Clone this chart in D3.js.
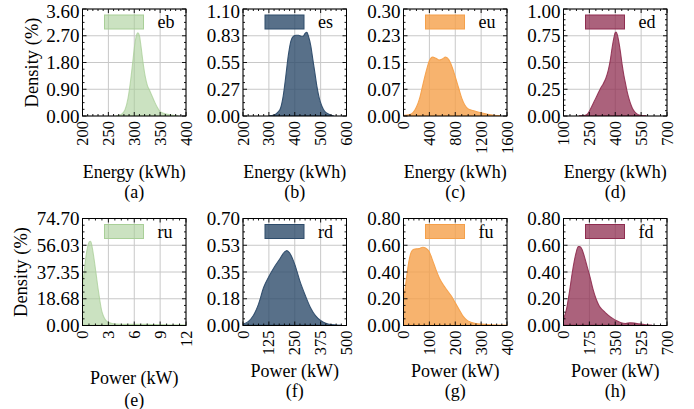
<!DOCTYPE html>
<html><head><meta charset="utf-8">
<script src="https://cdn.jsdelivr.net/npm/d3@7"></script>
<style>body{margin:0;background:#fff}</style>
</head><body>
<svg id="chart" width="694" height="409"></svg>
<script>
// ---------------- data ----------------
const seriesNames = ["eb","es","eu","ed","ru","rd","fu","fd"];
const panelLetters = ["(a)","(b)","(c)","(d)","(e)","(f)","(g)","(h)"];
const xAxisLabels = ["Energy (kWh)","Energy (kWh)","Energy (kWh)","Energy (kWh)","Power (kW)","Power (kW)","Power (kW)","Power (kW)"];
const yAxisLabel = "Density (%)";

const ebX = [265,275,282,288,293,297,301,304,307,310,313,317,321,325,330,335,340,345,350,355,362,370,378,385];
const ebY = [0,0.05,0.2,0.6,1.2,1.8,2.4,2.7,2.8,2.7,2.35,1.8,1.35,1.05,0.85,0.65,0.45,0.28,0.15,0.1,0.07,0.04,0.01,0];
const esX = [300,320,335,345,355,365,375,385,395,405,415,425,432,440,447,453,462,470,478,486,495,505,515,530,550];
const esY = [0,0.01,0.04,0.08,0.2,0.4,0.62,0.77,0.82,0.83,0.83,0.82,0.82,0.85,0.86,0.82,0.72,0.58,0.44,0.3,0.18,0.1,0.05,0.02,0];
const euX = [0,100,150,200,250,300,350,400,450,500,550,600,650,700,750,800,850,900,950,1000,1100,1200,1300,1400,1500];
const euY = [0.002,0.004,0.01,0.025,0.05,0.088,0.125,0.155,0.165,0.162,0.157,0.16,0.165,0.158,0.138,0.11,0.08,0.05,0.03,0.02,0.014,0.009,0.005,0.002,0];
const edX = [190,220,240,255,270,285,300,315,330,345,360,372,382,392,400,405,412,420,430,440,450,460,470,480,490,500,515,530,550,580];
const edY = [0,0.005,0.02,0.06,0.11,0.16,0.21,0.26,0.30,0.35,0.43,0.53,0.64,0.73,0.78,0.785,0.76,0.7,0.6,0.48,0.38,0.3,0.22,0.16,0.11,0.07,0.035,0.015,0.005,0];
const ruX = [0,0.2,0.4,0.6,0.8,0.9,1.0,1.2,1.4,1.6,1.8,2.0,2.2,2.4,2.6,2.8,3.0,3.5,4,5,6,7,8,9,10,11,12];
const ruY = [28,38,48,55,58.5,58.8,58,52,44,35,26,18,11,7,4.5,3,2.2,1.3,1.0,0.8,0.8,0.9,0.7,0.5,0.4,0.3,0.2];
const rdX = [0,25,50,75,100,125,150,175,200,212,225,250,275,300,325,350,375,400,425,450,475];
const rdY = [0.01,0.025,0.065,0.14,0.25,0.32,0.38,0.43,0.48,0.49,0.475,0.4,0.29,0.2,0.12,0.065,0.033,0.015,0.006,0.002,0];
const fuX = [0,10,20,30,40,60,75,85,100,110,125,140,155,170,185,200,215,230,245,260,280,300,330,360,400];
const fuY = [0.19,0.33,0.47,0.55,0.57,0.575,0.585,0.58,0.55,0.5,0.42,0.35,0.3,0.26,0.22,0.17,0.12,0.07,0.04,0.025,0.015,0.01,0.005,0.002,0];
const fdX = [0,20,40,60,80,100,110,125,140,160,180,200,220,240,260,280,300,330,360,390,420,450,480,510,550,600];
const fdY = [0.05,0.12,0.25,0.4,0.52,0.59,0.59,0.57,0.52,0.44,0.36,0.27,0.2,0.15,0.12,0.1,0.08,0.055,0.035,0.02,0.015,0.02,0.018,0.012,0.006,0];

const seriesX = [ebX,esX,euX,edX,ruX,rdX,fuX,fdX];
const seriesY = [ebY,esY,euY,edY,ruY,rdY,fuY,fdY];

const xTicks = [
  [200,250,300,350,400],[200,300,400,500,600],[0,400,800,1200,1600],[100,250,400,550,700],
  [0,3,6,9,12],[0,125,250,375,500],[0,100,200,300,400],[0,175,350,525,700]];
const yTicks = [
  [0,0.9,1.8,2.7,3.6],[0,0.275,0.55,0.825,1.1],[0,0.075,0.15,0.225,0.3],[0,0.25,0.5,0.75,1.0],
  [0,18.675,37.35,56.025,74.7],[0,0.175,0.35,0.525,0.7],[0,0.2,0.4,0.6,0.8],[0,0.2,0.4,0.6,0.8]];
const yTickLabels = [
  ["0.00","0.90","1.80","2.70","3.60"],["0.00","0.27","0.55","0.83","1.10"],
  ["0.00","0.07","0.15","0.23","0.30"],["0.00","0.25","0.50","0.75","1.00"],
  ["0.00","18.68","37.35","56.03","74.70"],["0.00","0.18","0.35","0.53","0.70"],
  ["0.00","0.20","0.40","0.60","0.80"],["0.00","0.20","0.40","0.60","0.80"]];
const xMinorDivs = [5,5,4,4,4,5,5,4];
const yMinorDivs = [4,4,4,5,4,4,4,4];

const colors = ["#a9cf98","#2e4c6b","#f5a04a","#8f2d50","#a9cf98","#2e4c6b","#f5a04a","#8f2d50"];
const fillOpacity = [0.6,0.8,0.8,0.75,0.6,0.8,0.8,0.75];

// ---------------- layout ----------------
const colX = [82.5, 243, 403.5, 563.5];
const rowY = [9, 218.5];
const W = 103.5, H = 107;
const xLabelY = [[172,172,172,172],[378,371,371,371]];
const subY = [[192,192,192,192],[400,391,391,391]];
const yLabelX = [32, 21];
const FONT = "'Liberation Serif'";
const YT_SIZE = 19;

const svg = d3.select("#chart");
const txt = (sel, size) => sel.style("font-family", FONT).style("font-size", size + "px").attr("fill", "#000");

seriesNames.forEach((name, i) => {
  const r = Math.floor(i / 4), c = i % 4;
  const g = svg.append("g").attr("transform", `translate(${colX[c]},${rowY[r]})`);
  const xt = xTicks[i], yt = yTicks[i];
  const x = d3.scaleLinear().domain([xt[0], xt[xt.length-1]]).range([0, W]);
  const y = d3.scaleLinear().domain([yt[0], yt[yt.length-1]]).range([H, 0]);

  const clipId = "clip" + i;
  g.append("clipPath").attr("id", clipId).append("rect").attr("width", W).attr("height", H);

  // grid
  g.selectAll(".gx").data(xt).join("line")
    .attr("x1", d => x(d)).attr("x2", d => x(d)).attr("y1", 0).attr("y2", H)
    .attr("stroke", "#c8c8c8").attr("stroke-width", 1);
  g.selectAll(".gy").data(yt).join("line")
    .attr("y1", d => y(d)).attr("y2", d => y(d)).attr("x1", 0).attr("x2", W)
    .attr("stroke", "#c8c8c8").attr("stroke-width", 1);

  // density area
  const pts = seriesX[i].map((v, k) => [v, seriesY[i][k]]);
  const area = d3.area().x(d => x(d[0])).y0(y(0)).y1(d => y(d[1])).curve(d3.curveMonotoneX);
  const line = d3.line().x(d => x(d[0])).y(d => y(d[1])).curve(d3.curveMonotoneX);
  const cg = g.append("g").attr("clip-path", `url(#${clipId})`);
  cg.append("path").datum(pts).attr("d", area)
    .attr("fill", colors[i]).attr("fill-opacity", fillOpacity[i]).attr("stroke", "none");
  cg.append("path").datum(pts).attr("d", line)
    .attr("fill", "none").attr("stroke", colors[i]).attr("stroke-width", 1.1)
    .attr("stroke-opacity", Math.min(1, fillOpacity[i] + 0.15));
  cg.append("line").attr("x1", x(pts[0][0])).attr("x2", x(pts[pts.length-1][0]))
    .attr("y1", y(0)-0.5).attr("y2", y(0)-0.5)
    .attr("stroke", colors[i]).attr("stroke-width", 1).attr("stroke-opacity", fillOpacity[i]);

  // minor ticks
  const xMinor = [], yMinor = [];
  for (let k = 0; k < xt.length - 1; k++)
    for (let m = 1; m < xMinorDivs[i]; m++) xMinor.push(xt[k] + (xt[k+1]-xt[k]) * m / xMinorDivs[i]);
  for (let k = 0; k < yt.length - 1; k++)
    for (let m = 1; m < yMinorDivs[i]; m++) yMinor.push(yt[k] + (yt[k+1]-yt[k]) * m / yMinorDivs[i]);

  const tk = g.append("g").attr("stroke", "#000").attr("stroke-width", 0.9);
  const addX = (vals, len) => vals.forEach(v => {
    tk.append("line").attr("x1", x(v)).attr("x2", x(v)).attr("y1", H).attr("y2", H - len);
    tk.append("line").attr("x1", x(v)).attr("x2", x(v)).attr("y1", 0).attr("y2", len);
  });
  const addY = (vals, len) => vals.forEach(v => {
    tk.append("line").attr("y1", y(v)).attr("y2", y(v)).attr("x1", 0).attr("x2", len);
    tk.append("line").attr("y1", y(v)).attr("y2", y(v)).attr("x1", W).attr("x2", W - len);
  });
  addX(xt, 4); addX(xMinor, 2); addY(yt, 4); addY(yMinor, 2);

  // frame
  g.append("rect").attr("width", W).attr("height", H)
    .attr("fill", "none").attr("stroke", "#000").attr("stroke-width", 1);

  // y tick labels (kept inside the page at the very top)
  const minY = YT_SIZE * 0.62 - rowY[r];
  txt(g.selectAll(".yl").data(yt).join("text")
    .attr("x", -3).attr("y", d => Math.max(y(d), minY)).attr("text-anchor", "end")
    .attr("dominant-baseline", "central")
    .text((d, k) => yTickLabels[i][k]), YT_SIZE);

  // x tick labels (rotated)
  txt(g.selectAll(".xl").data(xt).join("text")
    .attr("transform", d => `translate(${x(d)},${H + 5}) rotate(-90)`)
    .attr("text-anchor", "end").attr("dominant-baseline", "central")
    .text(d => d), 16.5);

  // legend
  g.append("rect").attr("x", 22).attr("y", 6).attr("width", 39).attr("height", 14)
    .attr("fill", colors[i]).attr("fill-opacity", fillOpacity[i])
    .attr("stroke", colors[i]).attr("stroke-width", 1);
  txt(g.append("text").attr("x", 75).attr("y", 13).attr("dominant-baseline", "central")
    .text(name), 18);

  // axis labels
  txt(svg.append("text").attr("x", colX[c] + W / 2).attr("y", xLabelY[r][c])
    .attr("text-anchor", "middle").attr("dominant-baseline", "central")
    .text(xAxisLabels[i]), 18);
  txt(svg.append("text").attr("x", colX[c] + W / 2).attr("y", subY[r][c])
    .attr("text-anchor", "middle").attr("dominant-baseline", "central")
    .text(panelLetters[i]), 18);
  if (c === 0) {
    txt(svg.append("text")
      .attr("transform", `translate(${yLabelX[r]},${rowY[r] + H / 2}) rotate(-90)`)
      .attr("text-anchor", "middle").attr("dominant-baseline", "central")
      .text(yAxisLabel), 18.5);
  }
});
</script>
</body></html>
